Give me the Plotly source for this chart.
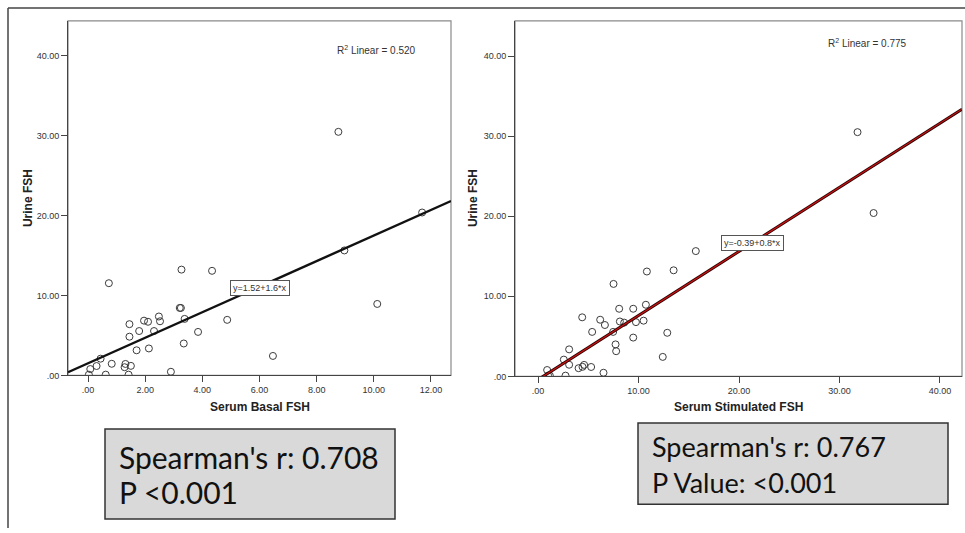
import numpy as np
import plotly.graph_objects as go

# Urine FSH with matching serum basal / stimulated FSH per subject
urine_fsh = [30.5, 20.4, 15.65, 13.25, 13.1, 11.55, 8.95, 8.45, 8.45, 7.38,
             7.08, 6.96, 6.86, 6.78, 6.72, 6.42, 5.56, 5.56, 5.45, 4.85,
             4.0, 3.38, 3.15, 2.44, 2.1, 1.46, 1.44, 1.2, 1.18, 1.03,
             0.8, 0.46, 0.1, 0.1, 0.1]
serum_basal = [8.76, 11.69, 8.97, 3.27, 4.34, 0.73, 10.12, 3.21, 3.25, 2.48,
               3.38, 4.87, 1.96, 2.52, 2.10, 1.45, 1.79, 2.31, 3.85, 1.45,
               3.35, 2.13, 1.70, 6.47, 0.44, 0.83, 1.31, 1.50, 0.30, 1.28,
               0.08, 2.90, 0.03, 0.62, 1.42]
serum_stim = [31.8, 33.4, 15.7, 13.49, 10.83, 7.51, 10.73, 8.07, 9.47, 4.39,
              6.18, 10.5, 8.14, 9.74, 8.57, 6.65, 5.38, 7.47, 12.86, 9.47,
              7.71, 3.09, 7.77, 12.41, 2.56, 3.09, 4.58, 4.42, 5.28, 4.03,
              0.9, 6.51, 1.17, 2.73, 1.0]

# Fit-line coefficients as reported on each panel
basal_fit = (1.52, 1.6)
stim_fit = (-0.39, 0.8)
basal_r2 = "0.520"
stim_r2 = "0.775"
basal_stats = ["Spearman's r: 0.708", "P <0.001"]
stim_stats = ["Spearman's r: 0.767", "P Value: <0.001"]

y_ticks = [0, 10, 20, 30, 40]
y_ticktext = [".00", "10.00", "20.00", "30.00", "40.00"]
basal_ticks = [0, 2, 4, 6, 8, 10, 12]
basal_ticktext = [".00", "2.00", "4.00", "6.00", "8.00", "10.00", "12.00"]
stim_ticks = [0, 10, 20, 30, 40]
stim_ticktext = [".00", "10.00", "20.00", "30.00", "40.00"]

basal_range = [-0.7, 12.7]
stim_range = [-2.3, 42.2]
y_range = [0, 44.4]

W, H = 965, 533


def px(x):
    return x / W


def py(y):
    return 1 - y / H


fig = go.Figure()

marker = dict(symbol="circle-open", size=7, color="#3c3c3c", line=dict(width=1))

fig.add_trace(go.Scatter(x=serum_basal, y=urine_fsh, mode="markers", marker=marker,
                         xaxis="x", yaxis="y", showlegend=False))
xb = np.linspace(*basal_range, 50)
fig.add_trace(go.Scatter(x=xb, y=basal_fit[0] + basal_fit[1] * xb, mode="lines",
                         line=dict(color="#111111", width=2.4),
                         xaxis="x", yaxis="y", showlegend=False))

fig.add_trace(go.Scatter(x=serum_stim, y=urine_fsh, mode="markers", marker=marker,
                         xaxis="x2", yaxis="y2", showlegend=False))
xs = np.linspace(*stim_range, 50)
ys = stim_fit[0] + stim_fit[1] * xs
fig.add_trace(go.Scatter(x=xs, y=ys, mode="lines", line=dict(color="#2a0505", width=3),
                         xaxis="x2", yaxis="y2", showlegend=False))
fig.add_trace(go.Scatter(x=xs, y=ys, mode="lines", line=dict(color="#d01010", width=1.2),
                         xaxis="x2", yaxis="y2", showlegend=False))

tickfont = dict(family="Liberation Sans, Arial", size=9, color="#333333")
axis_common = dict(showgrid=False, zeroline=False, showline=True, linecolor="#444444",
                   linewidth=1, ticks="outside", ticklen=6, tickcolor="#444444",
                   tickfont=tickfont, mirror=False)

fig.update_layout(
    width=W, height=H, margin=dict(l=0, r=0, t=0, b=0),
    paper_bgcolor="white", plot_bgcolor="white",
    xaxis=dict(domain=[px(68), px(451)], range=basal_range, tickvals=basal_ticks,
               ticktext=basal_ticktext, anchor="y", **axis_common),
    yaxis=dict(domain=[py(379), py(21)], range=y_range, tickvals=y_ticks,
               ticktext=y_ticktext, anchor="x", **axis_common),
    xaxis2=dict(domain=[px(515), px(962)], range=stim_range, tickvals=stim_ticks,
                ticktext=stim_ticktext, anchor="y2", **axis_common),
    yaxis2=dict(domain=[py(380), py(21)], range=y_range, tickvals=y_ticks,
                ticktext=y_ticktext, anchor="x2", **axis_common),
)

shapes = []
# panel frames
for xa, ya in (("x", "y"), ("x2", "y2")):
    shapes.append(dict(type="rect", xref=f"{xa} domain", yref=f"{ya} domain",
                       x0=0, x1=1, y0=0, y1=1, line=dict(color="#8a8a8a", width=1.2),
                       layer="below"))
# outer figure border (top and left)
shapes.append(dict(type="line", xref="paper", yref="paper", x0=px(8), x1=1,
                   y0=py(8), y1=py(8), line=dict(color="#444444", width=1.5)))
shapes.append(dict(type="line", xref="paper", yref="paper", x0=px(8), x1=px(8),
                   y0=py(8), y1=0, line=dict(color="#444444", width=1.5)))
# statistic boxes
shapes.append(dict(type="rect", xref="paper", yref="paper", x0=px(105), x1=px(395),
                   y0=py(524), y1=py(433), fillcolor="#d9d9d9",
                   line=dict(color="#333333", width=1.5)))
shapes.append(dict(type="rect", xref="paper", yref="paper", x0=px(638), x1=px(948),
                   y0=py(509), y1=py(427), fillcolor="#d9d9d9",
                   line=dict(color="#333333", width=1.5)))
fig.update_layout(shapes=shapes)


def label(text, x, y, font, xanchor="center", **kw):
    return dict(text=text, x=px(x), y=py(y), xref="paper", yref="paper",
                xanchor=xanchor, yanchor="middle", showarrow=False, font=font, **kw)


title_font = dict(family="Liberation Sans, Arial", size=12, color="#222222")
r2font = dict(family="Liberation Sans, Arial", size=10, color="#333333")
eqfont = dict(family="Liberation Sans, Arial", size=9, color="#333333")
statfont_l = dict(family="Lato, Noto Sans", size=30, color="#111111")
statfont_r = dict(family="Lato, Noto Sans", size=27, color="#111111")
boxed = dict(bgcolor="white", bordercolor="#555555", borderwidth=1, borderpad=2)

ann = [
    # axis titles
    label("<b>Serum Basal FSH</b>", 259.5, 411, title_font),
    label("<b>Serum Stimulated FSH</b>", 738, 411, title_font),
    label("<b>Urine FSH</b>", 28, 200, title_font, textangle=-90),
    label("<b>Urine FSH</b>", 473, 200, title_font, textangle=-90),
    # R-squared labels
    label(f"R<sup>2</sup> Linear = {basal_r2}", 335, 50, r2font, xanchor="left"),
    label(f"R<sup>2</sup> Linear = {stim_r2}", 826, 43, r2font, xanchor="left"),
    # equation labels
    label(f"y={basal_fit[0]:.2f}+{basal_fit[1]:g}*x", 259.5, 291, eqfont, **boxed),
    label(f"y={stim_fit[0]:.2f}+{stim_fit[1]:g}*x", 752.5, 245, eqfont, **boxed),
    # Spearman statistics
    label(basal_stats[0], 117, 461, statfont_l, xanchor="left"),
    label(basal_stats[1], 117, 497, statfont_l, xanchor="left"),
    label(stim_stats[0], 650, 451, statfont_r, xanchor="left"),
    label(stim_stats[1], 650, 487, statfont_r, xanchor="left"),
]
fig.update_layout(annotations=ann)

fig.write_html("out.html")
